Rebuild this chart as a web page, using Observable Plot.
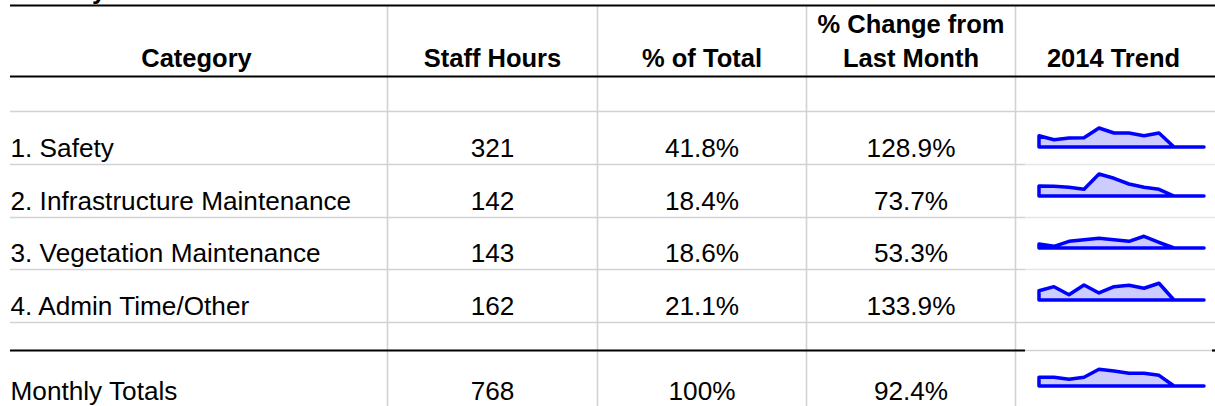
<!DOCTYPE html>
<html>
<head>
<meta charset="utf-8">
<script src="https://cdn.jsdelivr.net/npm/d3@7"></script>
<script src="https://cdn.jsdelivr.net/npm/@observablehq/plot@0.6"></script>
<style>
  html, body { margin: 0; padding: 0; background: #fff; }
  #wrap { position: relative; width: 1215px; height: 406px; overflow: hidden; background: #fff; }
  #wrap svg { position: absolute; }
</style>
</head>
<body>
<div id="wrap"></div>
<script>
// ---------- data ----------
const titleText = "Monthly";
const headerTop = ["", "", "", "% Change from", ""];
const headerBottom = ["Category", "Staff Hours", "% of Total", "Last Month", "2014 Trend"];
const categories = ["1. Safety", "2. Infrastructure Maintenance", "3. Vegetation Maintenance", "4. Admin Time/Other"];
const staffHours = [321, 142, 143, 162];
const pctOfTotal = [41.8, 18.4, 18.6, 21.1];
const pctChange = [128.9, 73.7, 53.3, 133.9];
const totalLabel = "Monthly Totals";
const totalHours = 768;
const totalPct = 100;
const totalChange = 92.4;
const months = ["Jan", "Feb", "Mar", "Apr", "May", "Jun", "Jul", "Aug", "Sep", "Oct", "Nov", "Dec"];
const trendSafety = [259, 167, 206, 213, 436, 321, 321, 259, 321, 0, 0, 0];
const trendInfra  = [212, 206, 184, 142, 466, 375, 254, 184, 142, 0, 0, 0];
const trendVeg    = [100, 43, 168, 208, 243, 208, 168, 294, 143, 0, 0, 0];
const trendAdmin  = [90, 129, 51, 146, 68, 129, 143, 114, 162, 0, 0, 0];
const trendTotal  = [624, 624, 481, 624, 1199, 1077, 912, 912, 768, 0, 0, 0];
const trendMax    = [505, 466, 552, 213, 1580];

// ---------- layout ----------
const W = 1215, H = 406;
const FONT = "'Liberation Sans', Arial, Helvetica, sans-serif";
const FS_HEAD = 25.5, FS_BODY = 26.2;
const colEdges = [10, 387, 597, 806, 1015, 1215];
const colCenters = [196, 492, 701.5, 910.5, 1113];
const headerBase = [32, 66];
const bodyBase = [156, 209, 261, 314];
const totalBase = 399;
const trendBase = [147, 196, 248, 300, 386];
const trendX = [1036, 1207];
const trendRangeH = 22;
const GRAY = "#d2d2d2", LIGHT = "#e6e6e6";

const pct = v => Number.isInteger(v) ? v + "%" : v.toFixed(1) + "%";
const mid = (base, fs) => base - 0.32 * fs; // Plot centers text with 0.32em shift

// horizontal rules
const blackLines = [
  {y: 5, x1: 10, x2: 1215}, {y: 76, x1: 10, x2: 1215},
  {y: 350, x1: 10, x2: 1025}, {y: 350, x1: 1212, x2: 1215}
];
const grayLines = [
  {y: 111, x1: 10, x2: 1215}, {y: 164, x1: 10, x2: 1025}, {y: 217, x1: 10, x2: 1025},
  {y: 269, x1: 10, x2: 1025}, {y: 322, x1: 10, x2: 1215}, {y: 350, x1: 1025, x2: 1212}
];
const lightLines = [
  {y: 164, x1: 1025, x2: 1215}, {y: 217, x1: 1025, x2: 1215}, {y: 269, x1: 1025, x2: 1215}
];
const vLines = colEdges.slice(1, 5).map(x => ({x, y1: 6, y2: H}));

// text tables
const headCells = [];
headerBottom.forEach((t, i) => {
  headCells.push({t, x: colCenters[i], y: mid(headerBase[1], FS_HEAD)});
  if (headerTop[i]) headCells.push({t: headerTop[i], x: colCenters[i], y: mid(headerBase[0], FS_HEAD)});
});
const labelCells = categories.map((t, i) => ({t, x: colEdges[0], y: mid(bodyBase[i], FS_BODY)}));
labelCells.push({t: totalLabel, x: colEdges[0], y: mid(totalBase, FS_BODY)});
const valueCells = [];
categories.forEach((c, i) => {
  const y = mid(bodyBase[i], FS_BODY);
  valueCells.push({t: String(staffHours[i]), x: colCenters[1], y});
  valueCells.push({t: pct(pctOfTotal[i]), x: colCenters[2], y});
  valueCells.push({t: pct(pctChange[i]), x: colCenters[3], y});
});
{
  const y = mid(totalBase, FS_BODY);
  valueCells.push({t: String(totalHours), x: colCenters[1], y});
  valueCells.push({t: pct(totalPct), x: colCenters[2], y});
  valueCells.push({t: pct(totalChange), x: colCenters[3], y});
}

const main = Plot.plot({
  width: W, height: H, margin: 0,
  x: {type: "identity", axis: null},
  y: {type: "identity", axis: null},
  style: {fontFamily: FONT, background: "transparent", color: "#000"},
  marks: [
    Plot.text([{t: titleText}], {text: "t", x: () => 8, y: () => -2 - 0.32 * FS_HEAD, textAnchor: "start",
      fontSize: FS_HEAD, fontWeight: "bold", fill: "#000"}),
    Plot.ruleX(vLines, {x: "x", y1: "y1", y2: "y2", stroke: GRAY, strokeWidth: 1.6}),
    Plot.ruleY(lightLines, {y: "y", x1: "x1", x2: "x2", stroke: LIGHT, strokeWidth: 1.6}),
    Plot.ruleY(grayLines, {y: "y", x1: "x1", x2: "x2", stroke: GRAY, strokeWidth: 1.6}),
    Plot.ruleY(blackLines, {y: "y", x1: "x1", x2: "x2", stroke: "#000", strokeWidth: 2.2}),
    Plot.text(headCells, {text: "t", x: "x", y: "y", textAnchor: "middle", fontSize: FS_HEAD, fontWeight: "bold", fill: "#000"}),
    Plot.text(labelCells, {text: "t", x: "x", y: "y", textAnchor: "start", fontSize: FS_BODY, fill: "#000"}),
    Plot.text(valueCells, {text: "t", x: "x", y: "y", textAnchor: "middle", fontSize: FS_BODY, fill: "#000"})
  ]
});
main.style.left = "0px"; main.style.top = "0px";
document.getElementById("wrap").appendChild(main);

// sparklines
const trendSeries = [trendSafety, trendInfra, trendVeg, trendAdmin, trendTotal];
const SW = 200, SH = 40, SB = 32; // svg size, baseline inside svg
trendSeries.forEach((series, i) => {
  const data = months.map((m, j) => ({month: m, v: series[j]}));
  const left = colEdges[4];
  const spark = Plot.plot({
    width: SW, height: SH, margin: 0,
    x: {type: "point", domain: months, padding: 0, range: [trendX[0] - left, trendX[1] - left], axis: null},
    y: {domain: [0, trendMax[i]], range: [SB, SB - trendRangeH], axis: null},
    style: {background: "transparent"},
    marks: [
      Plot.areaY(data, {x: "month", y: "v", fill: "#ccccff", fillOpacity: 1, stroke: "#0000ff",
        strokeWidth: 3.5, strokeLinejoin: "round"})
    ]
  });
  spark.style.left = left + "px";
  spark.style.top = (trendBase[i] - SB) + "px";
  document.getElementById("wrap").appendChild(spark);
});
</script>
</body>
</html>
